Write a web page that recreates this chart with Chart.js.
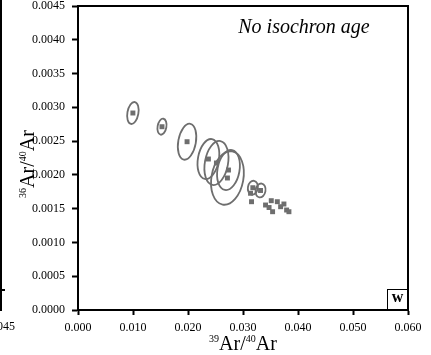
<!DOCTYPE html>
<html>
<head>
<meta charset="utf-8">
<script src="https://cdn.jsdelivr.net/npm/chart.js@4"></script>
<style>
  html, body { margin: 0; padding: 0; background: #fff; }
  #wrap { width: 431px; height: 355px; }
</style>
</head>
<body>
<div id="wrap"><canvas id="isoChart"></canvas></div>
<script>
// step data with error ellipses (39Ar/40Ar, 36Ar/40Ar, half-widths)
const ellX  = [0.00998, 0.01527, 0.01983, 0.02371, 0.02517, 0.02736, 0.02717, 0.03179, 0.03319];
const ellY  = [0.002916, 0.002713, 0.002491, 0.002235, 0.002176, 0.002072, 0.001954, 0.001810, 0.001769];
const ellRx = [0.0010, 0.0008, 0.0016, 0.0019, 0.0021, 0.0020, 0.0029, 0.0009, 0.0009];
const ellRy = [0.000165, 0.000120, 0.000270, 0.000300, 0.000330, 0.000300, 0.000400, 0.000104, 0.000104];

// steps with ellipses too small to see
const dotX = [0.03137, 0.03155, 0.03410, 0.03474, 0.03514, 0.03538, 0.03624, 0.03684, 0.03744, 0.03793, 0.03835];
const dotY = [0.001728, 0.001603, 0.001554, 0.001517, 0.001618, 0.001455, 0.001603, 0.001529, 0.001569, 0.001480, 0.001455];

const xTicks = [0, 0.01, 0.02, 0.03, 0.04, 0.05, 0.06];
const yTicks = [0, 0.0005, 0.001, 0.0015, 0.002, 0.0025, 0.003, 0.0035, 0.004, 0.0045];

const grey = "#6e6e6e";
const serif = "'Liberation Serif', 'DejaVu Serif', serif";

const points = ellX.map((x, i) => ({ x: x, y: ellY[i] }))
  .concat(dotX.map((x, i) => ({ x: x, y: dotY[i] })));

const ellipses = {
  id: "ellipses",
  afterDatasetsDraw(chart) {
    const c = chart.ctx, xs = chart.scales.x, ys = chart.scales.y;
    c.save();
    c.strokeStyle = grey;
    c.lineWidth = 1.8;
    ellX.forEach((x, i) => {
      const cx = xs.getPixelForValue(x), cy = ys.getPixelForValue(ellY[i]);
      const rx = Math.abs(xs.getPixelForValue(x + ellRx[i]) - cx);
      const ry = Math.abs(ys.getPixelForValue(ellY[i] + ellRy[i]) - cy);
      c.beginPath();
      c.ellipse(cx, cy, rx, ry, 0.18, 0, Math.PI * 2);
      c.stroke();
    });
    c.restore();
  }
};

const decor = {
  id: "decor",
  afterDraw(chart) {
    const c = chart.ctx, a = chart.chartArea;
    c.save();
    // frame
    c.strokeStyle = "#000";
    c.lineWidth = 2;
    c.strokeRect(a.left, a.top, a.right - a.left, a.bottom - a.top);

    // annotation
    c.fillStyle = "#000";
    c.font = "italic 20px " + serif;
    c.textAlign = "center";
    c.textBaseline = "middle";
    c.fillText("No isochron age", 304, 28);

    // panel letter
    c.lineWidth = 1;
    c.strokeRect(387.5, 289.5, 20, 21);
    c.font = "bold 16px " + serif;
    c.fillText("w", 397.5, 298);

    // axis titles with superscripts
    function supTitle(x, y, parts) {
      c.textAlign = "left";
      c.textBaseline = "alphabetic";
      let w = 0;
      parts.forEach(p => { c.font = (p[1] ? 10 : 20) + "px " + serif; w += c.measureText(p[0]).width; });
      let px = x - w / 2;
      parts.forEach(p => {
        c.font = (p[1] ? 10 : 20) + "px " + serif;
        c.fillText(p[0], px, y - (p[1] ? 8 : 0));
        px += c.measureText(p[0]).width;
      });
    }
    supTitle((a.left + a.right) / 2, 350, [["39", 1], ["Ar/", 0], ["40", 1], ["Ar", 0]]);
    c.save();
    c.translate(34, (a.top + a.bottom) / 2 + 6);
    c.rotate(-Math.PI / 2);
    supTitle(0, 0, [["36", 1], ["Ar/", 0], ["40", 1], ["Ar", 0]]);
    c.restore();

    // edge of the neighbouring panel
    c.lineWidth = 2;
    c.beginPath();
    c.moveTo(1, 0); c.lineTo(1, 311);
    c.moveTo(0, 290); c.lineTo(5, 290);
    c.stroke();
    c.font = "12px " + serif;
    c.textAlign = "right";
    c.textBaseline = "middle";
    c.fillText("0.045", 15, 327);
    c.restore();
  }
};

new Chart(document.getElementById("isoChart").getContext("2d"), {
  type: "scatter",
  data: {
    datasets: [{
      data: points,
      pointStyle: "rect",
      pointRadius: 3.5,
      backgroundColor: grey,
      borderColor: grey,
      borderWidth: 0
    }]
  },
  options: {
    responsive: true,
    maintainAspectRatio: false,
    animation: false,
    layout: { padding: { top: 6, right: 23, left: 0, bottom: 0 } },
    plugins: { legend: { display: false }, tooltip: { enabled: false } },
    scales: {
      x: {
        type: "linear",
        min: 0, max: 0.06,
        afterBuildTicks: s => { s.ticks = xTicks.map(v => ({ value: v })); },
        afterFit: s => { s.height = 45; s.paddingLeft = 0; s.paddingRight = 0; },
        ticks: {
          callback: v => v.toFixed(3),
          color: "#000",
          font: { family: serif, size: 12 },
          padding: 6,
          maxRotation: 0
        },
        grid: { drawOnChartArea: false, tickLength: 5, color: "#000", tickWidth: 2 },
        border: { color: "#000", width: 2 }
      },
      y: {
        type: "linear",
        min: 0, max: 0.0045,
        afterBuildTicks: s => { s.ticks = yTicks.map(v => ({ value: v })); },
        afterFit: s => { s.width = 78; s.paddingTop = 0; s.paddingBottom = 0; },
        ticks: {
          callback: v => v.toFixed(4),
          color: "#000",
          font: { family: serif, size: 12 },
          padding: 7
        },
        grid: { drawOnChartArea: false, tickLength: 6, color: "#000", tickWidth: 2 },
        border: { color: "#000", width: 2 }
      }
    }
  },
  plugins: [ellipses, decor]
});
</script>
</body>
</html>
